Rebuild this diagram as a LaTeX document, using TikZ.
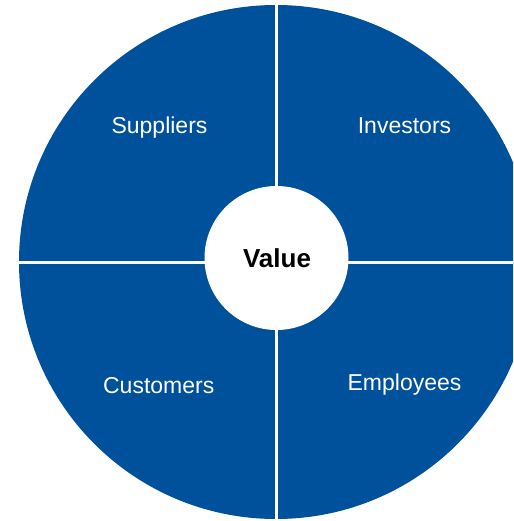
\documentclass[tikz,border=0pt]{standalone}
\usepackage{fontspec}
\setmainfont{Liberation Sans}
\definecolor{wheelblue}{RGB}{0,81,155}
\begin{document}
\begin{tikzpicture}[x=1pt,y=-1pt,
  lbl/.style={text=white,font=\fontsize{23}{27}\selectfont,anchor=base,inner sep=0pt},
  divider/.style={white,line width=3pt}]
\useasboundingbox (0,0) rectangle (513,521);
\clip (0,0) rectangle (513,521);
\fill[wheelblue] (276,262) circle[radius=257];
\draw[divider] (276,0) -- (276,521);
\draw[divider] (0,262) -- (513,262);
\node[circle,fill=white,minimum size=144pt,inner sep=0pt] (hub) at (276.5,258) {};
\node[anchor=base,inner sep=0pt,font=\bfseries\fontsize{26}{30}\selectfont] (val) at (277,267.3) {Value};
\node[lbl] (sup) at (159.5,134) {Suppliers};
\node[lbl] (inv) at (404.5,134) {Investors};
\node[lbl] (cus) at (158.7,393.3) {Customers};
\node[lbl] (emp) at (404.5,390.3) {Employees};
\end{tikzpicture}
\end{document}
